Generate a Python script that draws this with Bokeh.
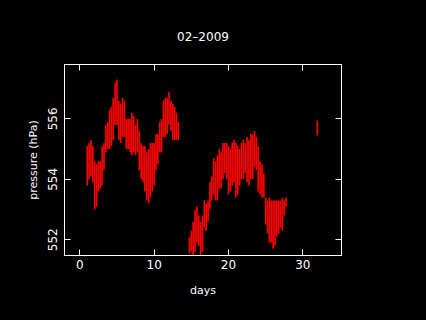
from bokeh.plotting import figure
from bokeh.models import ColumnDataSource, LinearAxis, FixedTicker, Range1d, Title
from bokeh.embed import file_html
from bokeh.resources import INLINE

title_text = "02–2009"
x_label = "days"
y_label = "pressure (hPa)"
x_ticks = [0, 10, 20, 30]
y_ticks = [552, 554, 556]

days = [1.00, 1.25, 1.50, 1.75, 2.00, 2.25, 2.50, 2.75, 3.00, 3.25, 3.50, 3.75,
        4.00, 4.25, 4.50, 4.75, 5.00, 5.25, 5.50, 5.75, 6.00, 6.25, 6.50, 6.75,
        7.00, 7.25, 7.50, 7.75, 8.00, 8.25, 8.50, 8.75, 9.00, 9.25, 9.50, 9.75,
        10.00, 10.25, 10.50, 10.75, 11.00, 11.25, 11.50, 11.75, 12.00, 12.25,
        12.50, 12.75, 13.00, 13.25,
        14.75, 15.00, 15.25, 15.50, 15.75, 16.00, 16.25, 16.50, 16.75, 17.00,
        17.25, 17.50, 17.75, 18.00, 18.25, 18.50, 18.75, 19.00, 19.25, 19.50,
        19.75, 20.00, 20.25, 20.50, 20.75, 21.00, 21.25, 21.50, 21.75, 22.00,
        22.25, 22.50, 22.75, 23.00, 23.25, 23.50, 23.75, 24.00, 24.25, 24.50,
        24.75, 25.00, 25.25, 25.50, 25.75, 26.00, 26.25, 26.50, 26.75, 27.00,
        27.25, 27.50, 27.75,
        31.95]

p_low = [553.8, 554.0, 554.1, 553.9, 553.0, 553.1, 553.6, 553.7, 553.8, 554.3, 554.9, 555.0,
         555.0, 555.1, 555.3, 555.8, 555.8, 555.3, 555.2, 555.4, 555.4, 555.0, 555.0, 554.9,
         554.8, 554.9, 554.8, 554.9, 554.3, 554.0, 553.9, 553.6, 553.3, 553.2, 553.4, 553.6,
         553.8, 554.3, 554.5, 554.9, 554.9, 555.4, 555.4, 555.5, 555.8, 555.6,
         555.3, 555.3, 555.3, 555.3,
         551.55, 551.6, 551.5, 551.6, 551.9, 551.8, 551.5, 551.6, 552.4, 552.3,
         552.6, 553.0, 553.3, 553.5, 553.3, 553.3, 553.7, 553.7, 554.0, 554.2,
         554.0, 553.5, 553.6, 553.8, 553.9, 553.4, 553.5, 553.8, 554.0, 554.0,
         554.2, 553.9, 553.8, 554.0, 554.0, 554.4, 554.3, 553.6, 553.5, 553.4,
         553.4, 552.5, 552.2, 551.9, 551.9, 551.7, 551.8, 552.1, 552.2, 552.4,
         552.3, 552.8, 553.1,
         555.45]

p_high = [555.1, 555.2, 555.3, 555.1, 554.6, 554.5, 554.6, 554.6, 555.1, 555.2, 555.8, 555.9,
          556.3, 556.4, 556.7, 557.2, 557.3, 556.6, 556.5, 556.7, 556.6, 556.0, 556.0, 556.0,
          556.2, 556.1, 555.8, 556.0, 555.6, 555.2, 555.1, 555.1, 554.9, 555.0, 555.2, 555.2,
          555.2, 555.5, 555.5, 555.9, 556.0, 556.6, 556.7, 556.7, 556.9, 556.6,
          556.5, 556.4, 556.2, 555.9,
          552.1, 552.3, 552.6, 553.0, 553.1, 552.8, 552.6, 552.8, 553.3, 553.2,
          553.3, 553.9, 554.1, 554.7, 554.6, 554.8, 555.0, 554.9, 555.2, 555.2,
          555.2, 555.1, 555.0, 555.2, 555.3, 555.2, 555.1, 555.0, 555.2, 555.3,
          555.2, 555.4, 555.3, 555.5, 555.5, 555.6, 555.4, 555.1, 554.6, 554.5,
          554.2, 553.4, 553.3, 553.4, 553.3, 553.3, 553.3, 553.3, 553.3, 553.3,
          553.4, 553.3, 553.4,
          555.95]

source = ColumnDataSource(data=dict(days=days, low=p_low, high=p_high))

FONT = "DejaVu Sans"

p = figure(width=426, height=320, output_backend="svg", toolbar_location=None,
           x_range=Range1d(-2.06, 35.2), y_range=Range1d(551.48, 557.8),
           x_axis_type=None, y_axis_type=None,
           min_border_left=64, min_border_right=85, min_border_top=64, min_border_bottom=65,
           background_fill_color="black", border_fill_color="black",
           outline_line_color="white", outline_line_width=1)
p.xgrid.visible = False
p.ygrid.visible = False

p.vbar(x="days", bottom="low", top="high", width=0.22, source=source,
       fill_color="#ff0000", line_color=None)

def style_axis(ax, show_labels):
    ax.axis_line_color = "white"
    ax.major_tick_line_color = "white"
    ax.major_tick_in = 6
    ax.major_tick_out = 0
    ax.minor_tick_line_color = None
    ax.major_label_text_color = "white" if show_labels else None
    ax.major_label_text_font = FONT
    ax.major_label_text_font_size = "12px"
    ax.axis_label_text_color = "white"
    ax.axis_label_text_font = FONT
    ax.axis_label_text_font_size = "11px"
    ax.axis_label_text_font_style = "normal"

xb = LinearAxis(ticker=FixedTicker(ticks=x_ticks), axis_label=x_label)
style_axis(xb, True)
xb.major_label_standoff = 4
xb.axis_label_standoff = 12
p.add_layout(xb, "below")

yl = LinearAxis(ticker=FixedTicker(ticks=y_ticks), axis_label=y_label)
style_axis(yl, True)
yl.major_label_orientation = "vertical"
yl.major_label_standoff = 7
yl.axis_label_standoff = 6
p.add_layout(yl, "left")

xt = LinearAxis(ticker=FixedTicker(ticks=x_ticks))
style_axis(xt, False)
p.add_layout(xt, "above")

yr = LinearAxis(ticker=FixedTicker(ticks=y_ticks))
style_axis(yr, False)
p.add_layout(yr, "right")

t = Title(text=title_text, align="center", text_color="white", text_font=FONT,
          text_font_size="12px", text_font_style="normal", offset=0, standoff=42)
p.add_layout(t, "above")

html = file_html(p, INLINE)
html = html.replace("<body>", '<body style="background-color:black;">')
open("out.html", "w").write(html)
